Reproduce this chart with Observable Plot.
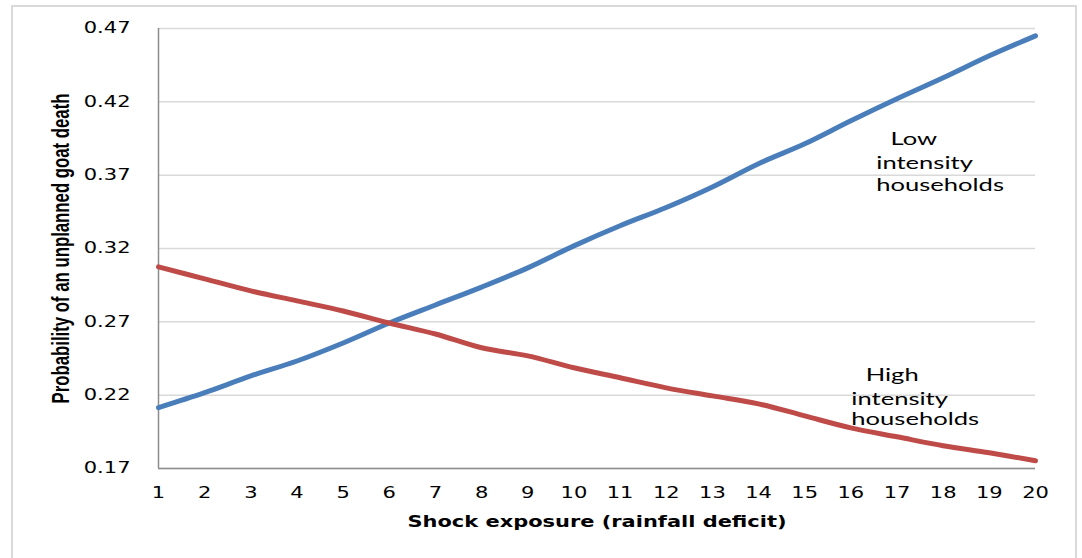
<!DOCTYPE html>
<html>
<head>
<meta charset="utf-8">
<script src="https://cdn.jsdelivr.net/npm/d3@7"></script>
<script src="https://cdn.jsdelivr.net/npm/@observablehq/plot@0.6"></script>
<style>
  html, body { margin: 0; padding: 0; background: #fff; }
  #wrap { position: relative; width: 1082px; height: 558px; overflow: hidden; }
  #border { position: absolute; left: 11px; top: 5px; width: 1066px; height: 570px; border: 2px solid #d9d9d9; box-sizing: border-box; pointer-events: none; }
</style>
</head>
<body>
<div id="wrap"><div id="border"></div></div>
<script>
// ---- data ----
const shock = [1, 2, 3, 4, 5, 6, 7, 8, 9, 10, 11, 12, 13, 14, 15, 16, 17, 18, 19, 20];
const lowIntensity = [0.2115, 0.2217, 0.2331, 0.2433, 0.2556, 0.2692, 0.2815, 0.2937, 0.3068, 0.3218,
                      0.3355, 0.3480, 0.3620, 0.3778, 0.3914, 0.4071, 0.4221, 0.4364, 0.4514, 0.4650];
const highIntensity = [0.3075, 0.2993, 0.2911, 0.2843, 0.2774, 0.2692, 0.2617, 0.2523, 0.2468, 0.2387,
                       0.2319, 0.2250, 0.2195, 0.2141, 0.2059, 0.1977, 0.1916, 0.1855, 0.1807, 0.1753];
const yTicks = [0.17, 0.22, 0.27, 0.32, 0.37, 0.42, 0.47];
const xTicks = shock;
const xTitle = "Shock exposure (rainfall deficit)";
const yTitle = "Probability of an unplanned goat death";
const annoText = ["Low", "intensity", "households", "High", "intensity", "households"];
const annoX = [16.86, 16.55, 16.55, 16.32, 16.01, 16.01];
const annoY = [0.3948, 0.3784, 0.3634, 0.2337, 0.2175, 0.2033];

const lowData = shock.map((s, i) => ({x: s, y: lowIntensity[i]}));
const highData = shock.map((s, i) => ({x: s, y: highIntensity[i]}));
const annoData = annoText.map((t, i) => ({t, x: annoX[i], y: annoY[i]}));

const chart = Plot.plot({
  width: 1082,
  height: 558,
  marginLeft: 158,
  marginRight: 47,
  marginTop: 28,
  marginBottom: 90,
  style: {fontFamily: "DejaVu Sans, Verdana, sans-serif", background: "transparent", color: "#000"},
  x: {domain: [1, 20]},
  y: {domain: [0.17, 0.47]},
  marks: [
    Plot.gridY(yTicks, {stroke: "#d9d9d9", strokeOpacity: 1, strokeWidth: 1.5}),
    Plot.ruleX([1], {stroke: "#8c8c8c", strokeWidth: 1.5}),
    Plot.ruleY([0.17], {stroke: "#8c8c8c", strokeWidth: 1.5}),
    Plot.axisY(yTicks, {tickSize: 0, tickPadding: 28, fontSize: 15, tickFormat: d3.format(".2f"), label: null}),
    Plot.axisX(xTicks, {tickSize: 0, tickPadding: 19, fontSize: 15, tickFormat: d => String(d), label: null}),
    Plot.line(lowData, {x: "x", y: "y", stroke: "#4a7ebb", strokeWidth: 5, curve: "catmull-rom"}),
    Plot.line(highData, {x: "x", y: "y", stroke: "#be4b48", strokeWidth: 5, curve: "catmull-rom"}),
    Plot.text(annoData, {x: "x", y: "y", text: "t", textAnchor: "start", lineAnchor: "middle",
      fontSize: 18, fontFamily: "Lato, sans-serif", fill: "#000"}),
    Plot.text([xTitle], {frameAnchor: "bottom", dy: 54, textAnchor: "middle", lineAnchor: "middle", fontSize: 15, fontWeight: "bold",
      fontFamily: "DejaVu Sans, sans-serif", fill: "#000"}),
    Plot.text([yTitle], {frameAnchor: "left", dx: -97, rotate: -90, textAnchor: "middle", lineAnchor: "middle", fontSize: 23, fontWeight: "bold",
      fontFamily: "Liberation Sans Narrow, Liberation Sans, sans-serif", fill: "#000"})
  ]
});
document.getElementById("wrap").appendChild(chart);

// horizontally stretch text to match the reference's wide rendering
function stretch(sel, factor) {
  sel.each(function() {
    const len = this.getComputedTextLength();
    if (len > 0) {
      this.setAttribute("textLength", len * factor);
      this.setAttribute("lengthAdjust", "spacingAndGlyphs");
    }
  });
}
function fitTo(sel, target) {
  sel.each(function() {
    this.setAttribute("textLength", target);
    this.setAttribute("lengthAdjust", "spacingAndGlyphs");
  });
}
const svg = d3.select(chart);
stretch(svg.selectAll('g[aria-label="y-axis tick label"] text'), 1.4);
stretch(svg.selectAll('g[aria-label="x-axis tick label"] text'), 1.4);
const texts = svg.selectAll('g[aria-label="text"]');
stretch(d3.select(texts.nodes()[0]).selectAll("text"), 1.42);
fitTo(d3.select(texts.nodes()[1]).selectAll("text"), 379);
fitTo(d3.select(texts.nodes()[2]).selectAll("text"), 310);
</script>
</body>
</html>
